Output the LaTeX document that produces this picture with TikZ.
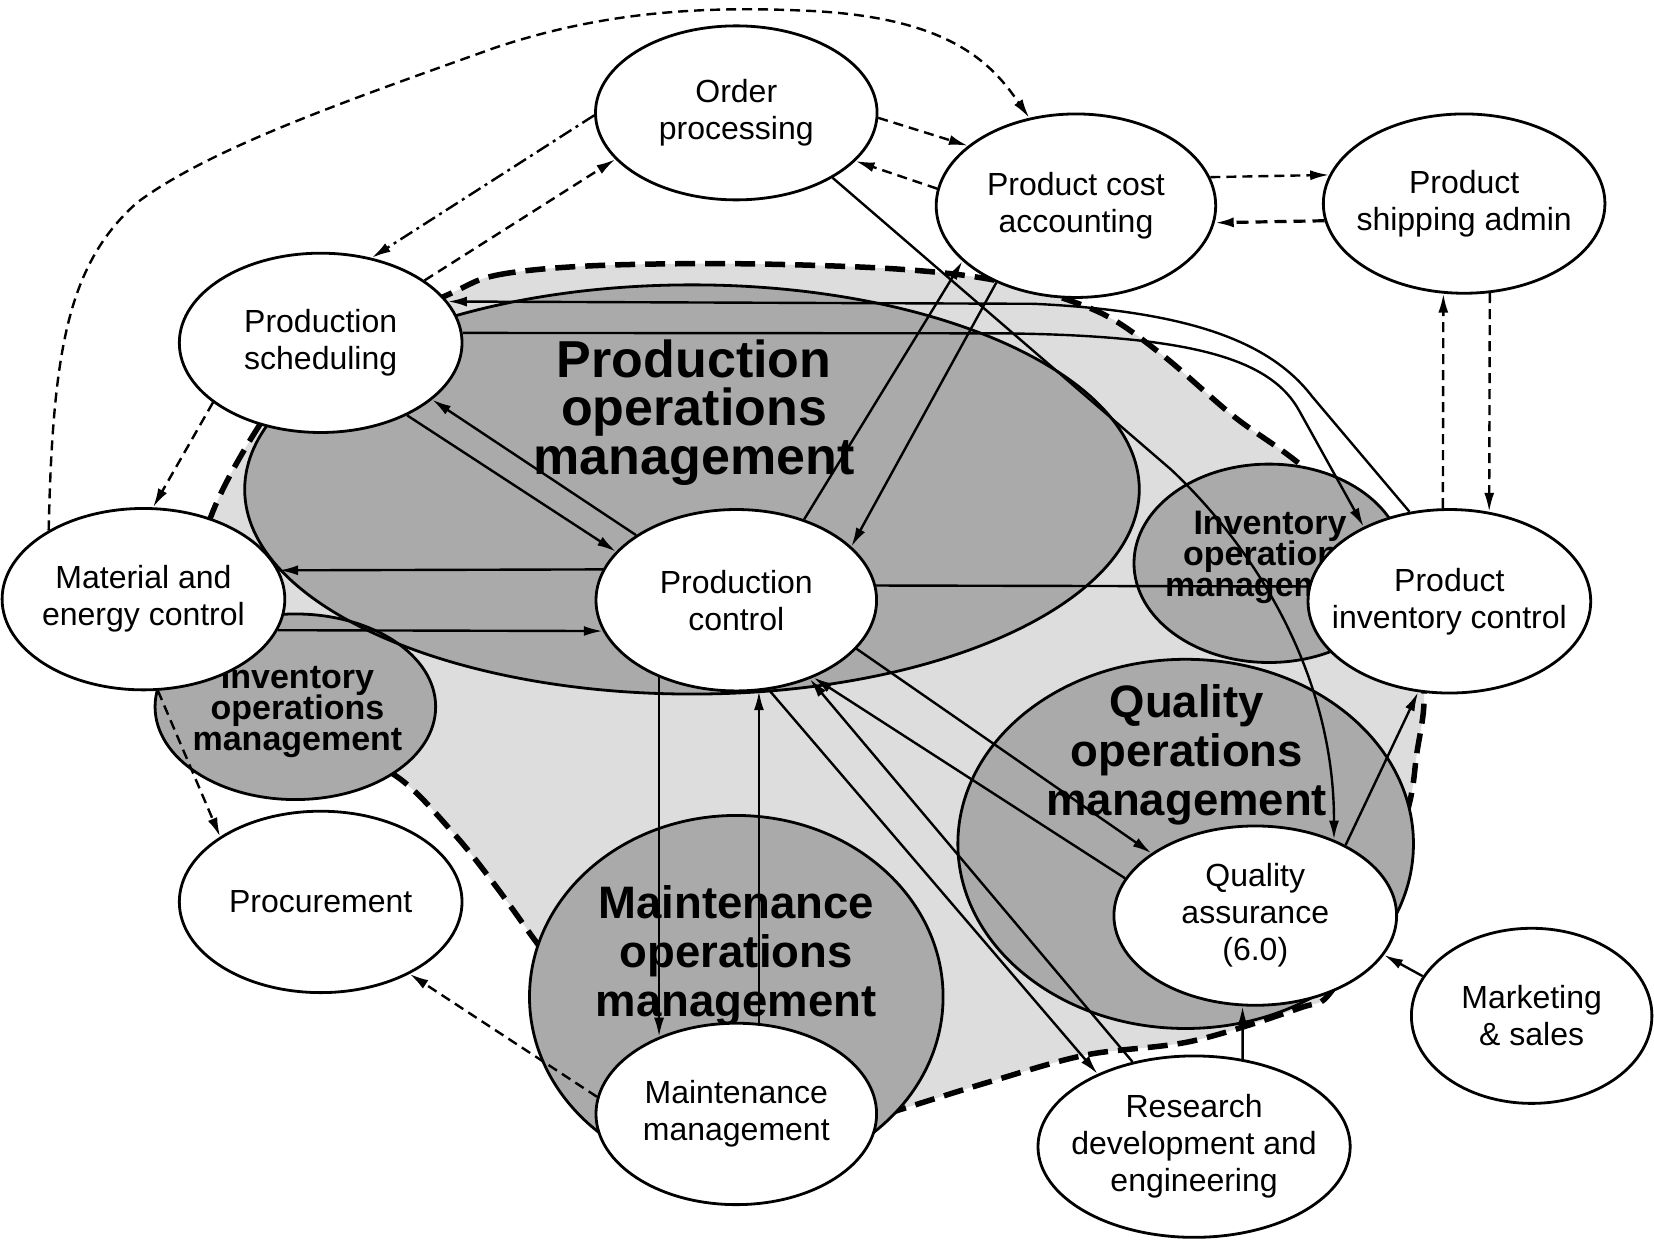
\documentclass[tikz,border=0pt]{standalone}
\usepackage{fontspec}
\setmainfont{Liberation Sans}
\usetikzlibrary{shapes.geometric,arrows.meta}
\definecolor{dg}{RGB}{170,170,170}
\definecolor{lg}{RGB}{221,221,221}
\begin{document}
\begin{tikzpicture}[x=1.05485pt,y=-1.05485pt,
  nodeell/.style={ellipse, draw=black, line width=2.8pt, fill=white, inner sep=0pt},
  ntext/.style={align=center, font={\fontsize{32}{37}\selectfont}, inner sep=0pt},
  bigtext/.style={align=center, font={\fontsize{52}{48.5}\selectfont\bfseries\lineskiplimit=-60pt}, inner sep=0pt},
  midtext/.style={align=center, font={\fontsize{45.5}{49}\selectfont\bfseries\lineskiplimit=-60pt}, inner sep=0pt},
  smalltext/.style={align=center, font={\fontsize{34}{31}\selectfont\bfseries\lineskiplimit=-60pt}, inner sep=0pt},
  grayline/.style={draw=black, line width=2.8pt},
  conn/.style={line width=2.4pt},
  arr/.style={-{Latex[length=19pt,width=10pt]}},
  thindash/.style={line width=2.4pt, dash pattern=on 10pt off 6pt},
  thickdash/.style={line width=3.2pt, dash pattern=on 12pt off 7pt},
  dashdot/.style={line width=2.4pt, dash pattern=on 14pt off 5pt on 3pt off 5pt},
  blob/.style={fill=lg, draw=black, line width=5.5pt, dash pattern=on 20pt off 10pt}
]
\useasboundingbox (0,0) rectangle (1568,1176);
\fill[white] (0,0) rectangle (1568,1176);

% light grey enterprise region
\filldraw[blob] plot[smooth cycle, tension=0.55] coordinates {
 (421,281) (470,261) (560,252) (700,250) (850,255) (950,267) (1040,295)
 (1100,335) (1170,395) (1240,447) (1300,520) (1342,600) (1350,662)
 (1343,715) (1335,766) (1305,860) (1262,940) (1231,956) (1130,987)
 (1030,1000) (940,1025) (853,1052) (780,1075) (640,1050) (560,960)
 (512,898) (470,840) (430,790) (376,736) (300,700) (220,660) (178,600)
 (198,495) (246,403) (300,335)};

% dark grey operations-management regions
\coordinate (POMc) at (656,464);
\coordinate (IOMLc) at (280,670);
\coordinate (IOMRc) at (1203,534);
\coordinate (QOMc) at (1124,800);
\coordinate (MOMc) at (698,945);
\fill[dg] (POMc) ellipse [x radius=447.3pt, y radius=204.6pt];
\fill[dg] (IOMLc) ellipse [x radius=140.3pt, y radius=92.8pt];
\fill[dg] (IOMRc) ellipse [x radius=135pt, y radius=99.2pt];
\fill[dg] (QOMc) ellipse [x radius=227.8pt, y radius=184.6pt];
\fill[dg] (MOMc) ellipse [x radius=206.8pt, y radius=181.4pt];
\draw[grayline] (POMc) ellipse [x radius=447.3pt, y radius=204.6pt];
\draw[grayline] (IOMLc) ellipse [x radius=140.3pt, y radius=92.8pt];
\draw[grayline] (IOMRc) ellipse [x radius=135pt, y radius=99.2pt];
\draw[grayline] (QOMc) ellipse [x radius=227.8pt, y radius=184.6pt];
\draw[grayline] (MOMc) ellipse [x radius=206.8pt, y radius=181.4pt];

\node[bigtext] (POMt) at (658,391) {Production\\operations\\management};
\node[midtext] (QOMt) at (1125,716) {Quality\\operations\\management};
\node[midtext] (MOMt) at (698,906) {Maintenance\\operations\\management};
\node[smalltext] (IOMLt) at (282,674) {Inventory\\operations\\management};
\node[smalltext] (IOMRt) at (1204,528) {Inventory\\operations\\management};

% function nodes
\node[nodeell, minimum width=281.6pt, minimum height=174pt] (OP) at (698,107) {};
\node[nodeell, minimum width=279.5pt, minimum height=183.5pt] (PCA) at (1020,195) {};
\node[nodeell, minimum width=281.6pt, minimum height=179.3pt] (PSA) at (1388,193) {};
\node[nodeell, minimum width=282.7pt, minimum height=179.3pt] (PS) at (304,325) {};
\node[nodeell, minimum width=282.7pt, minimum height=181.4pt] (MEC) at (136,568) {};
\node[nodeell, minimum width=280.6pt, minimum height=181.4pt] (PC) at (698,569) {};
\node[nodeell, minimum width=282.7pt, minimum height=183.5pt] (PIC) at (1374,570) {};
\node[nodeell, minimum width=282.7pt, minimum height=181.4pt] (PRO) at (304,855) {};
\node[nodeell, minimum width=280.6pt, minimum height=181.4pt] (MM) at (698,1056) {};
\node[nodeell, minimum width=282.7pt, minimum height=179.3pt] (QA) at (1190,868) {};
\node[nodeell, minimum width=312.2pt, minimum height=181.4pt] (RDE) at (1132,1087) {};
\node[nodeell, minimum width=240.5pt, minimum height=175.1pt] (MS) at (1452,963) {};

\node[ntext] (OPt) at (OP) {Order\\processing};
\node[ntext] (PCAt) at (PCA) {Product cost\\accounting};
\node[ntext] (PSAt) at (PSA) {Product\\shipping admin};
\node[ntext] (PSt) at (PS) {Production\\scheduling};
\node[ntext] (MECt) at (MEC) {Material and\\energy control};
\node[ntext] (PCt) at (PC) {Production\\control};
\node[ntext] (PICt) at (PIC) {Product\\inventory control};
\node[ntext] (PROt) at (PRO) {Procurement};
\node[ntext] (MMt) at (MM) {Maintenance\\management};
\node[ntext] (QAt) at (QA) {Quality\\assurance\\(6.0)};
\node[ntext] (RDEt) at (RDE) {Research\\development and\\engineering};
\node[ntext] (MSt) at (MS) {Marketing\\\& sales};

% dashed (information) flows
\draw[thindash, arr] (MEC.144) .. controls (50,330) and (65,250) .. (130,192)
   .. controls (200,140) and (330,95) .. (470,45)
   .. controls (560,15) and (650,5) .. (760,10)
   .. controls (900,15) and (940,60) .. (PCA.118);
\draw[dashdot, arr] (OP.181) -- (PS.59);
\draw[thindash, arr] (PS.31) -- (OP.201);
\draw[thindash, arr] (OP.358) -- (PCA.151);
\draw[thindash, arr] (PCA.173) -- (OP.338);
\draw[thindash, arr] (PCA.12) -- (PSA.168);
\draw[thickdash, arr] (PSA.187) -- (PCA.353);
\draw[thindash, arr] (PIC.94) -- (PSA.257);
\draw[thindash, arr] (PSA.286) -- (PIC.66);
\draw[thindash, arr] (PS.209) -- (MEC.84);
\draw[thindash, arr] (MEC.279) -- (PRO.147);
\draw[thindash, arr] (MM.173) -- (PRO.321);

% solid flows
\draw[conn, arr] (OP.326) -- (1110,445) .. controls (1190,520) and (1265,640) .. (QA.44);
\draw[conn, arr] (PIC.114) -- (1244,376) .. controls (1205,325) and (1130,295) .. (980,288) -- (PS.18);
\draw[conn, arr] (PS.4) -- (950,316) .. controls (1130,318) and (1205,340) .. (1232,390) -- (PIC.139);
\draw[conn, arr] (PS.320) -- (PC.158);
\draw[conn, arr] (PC.147) -- (PS.333);
\draw[conn, arr] (PC.167) -- (MEC.12);
\draw[conn, arr] (MEC.347) -- (PC.193);
\draw[conn, arr] (PC.50) -- (PCA.206);
\draw[conn, arr] (PCA.224) -- (PC.25);
\draw[conn] (PC.6) -- (PIC.174);
\draw[conn, arr] (PC.225) -- (MM.135);
\draw[conn, arr] (MM.76) -- (PC.284);
\draw[conn, arr] (PC.338) -- (QA.149);
\draw[conn, arr] (QA.164) -- (PC.315);
\draw[conn, arr] (PC.290) -- (RDE.143);
\draw[conn, arr] (RDE.126) -- (PC.313);
\draw[conn, arr] (RDE.61) -- (QA.262);
\draw[conn, arr] (MS.160) -- (QA.343);
\draw[conn, arr] (QA.38) -- (PIC.251);
\end{tikzpicture}
\end{document}
